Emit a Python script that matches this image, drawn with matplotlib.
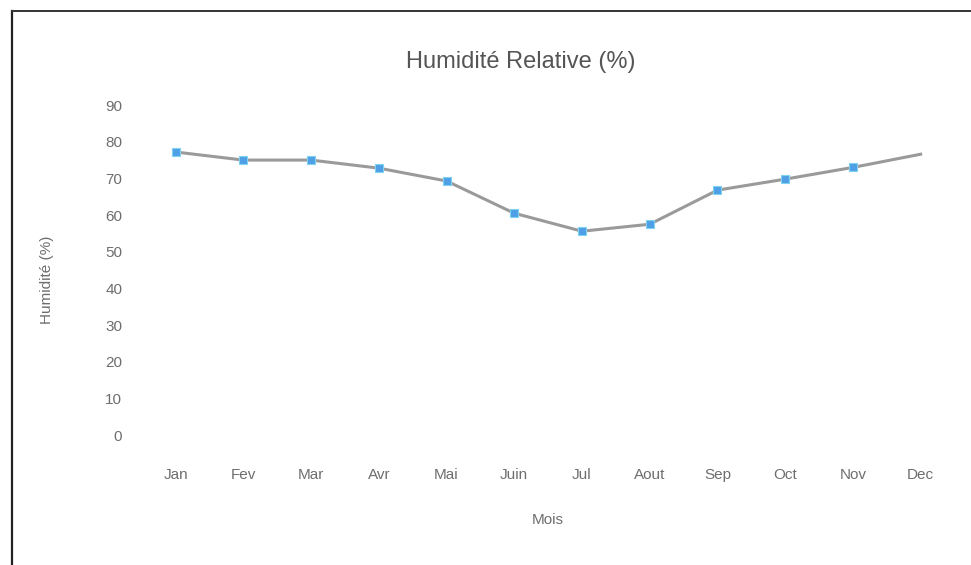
import matplotlib
matplotlib.use("Agg")
import matplotlib.pyplot as plt
from matplotlib.lines import Line2D

months = ["Jan", "Fev", "Mar", "Avr", "Mai", "Juin",
          "Jul", "Aout", "Sep", "Oct", "Nov", "Dec"]
humidity = [77.2, 75.0, 75.0, 72.8, 69.3, 60.5,
            55.6, 57.5, 66.8, 69.8, 73.0, 76.6]
yticks = [0, 10, 20, 30, 40, 50, 60, 70, 80, 90]

plt.rcParams["font.family"] = ["Liberation Sans", "DejaVu Sans"]
text_grey = "#6e6e6e"

fig = plt.figure(figsize=(9.71, 5.65), dpi=100)
ax = fig.add_axes([0.146, 0.230, 0.837, 0.584])

x = list(range(len(months)))
ax.plot(x, humidity, color="#9a9a9a", lw=2.2, zorder=2)
ax.plot(x[:-1], humidity[:-1], ls="none", marker="s", ms=6,
        color="#4f9fe6", mec="#7fd3f0", mew=0.8, zorder=3)

ax.set_xlim(-0.5, len(months) - 0.5)
ax.set_ylim(0, 90)
ax.set_xticks(x)
ax.set_xticklabels(months)
ax.set_yticks(yticks)
for s in ax.spines.values():
    s.set_visible(False)
ax.tick_params(length=0, colors=text_grey, labelsize=11)
ax.tick_params(axis="x", pad=24)
ax.tick_params(axis="y", pad=14)

ax.set_xlabel("Mois", color=text_grey, fontsize=11, labelpad=22)
fig.text(0.048, 0.505, "Humidité (%)", rotation=90, color=text_grey,
         fontsize=11, ha="center", va="center")
fig.text(0.536, 0.89, "Humidité Relative (%)", color="#555555",
         fontsize=17, ha="center", va="center")

# outer frame (left and top edges)
fig.add_artist(Line2D([0.0124, 0.0124], [0.0, 0.981], color="#222222",
                      lw=1.6, transform=fig.transFigure))
fig.add_artist(Line2D([0.0124, 1.0], [0.981, 0.981], color="#333333",
                      lw=1.4, transform=fig.transFigure))

fig.savefig("out.png", dpi=100)
